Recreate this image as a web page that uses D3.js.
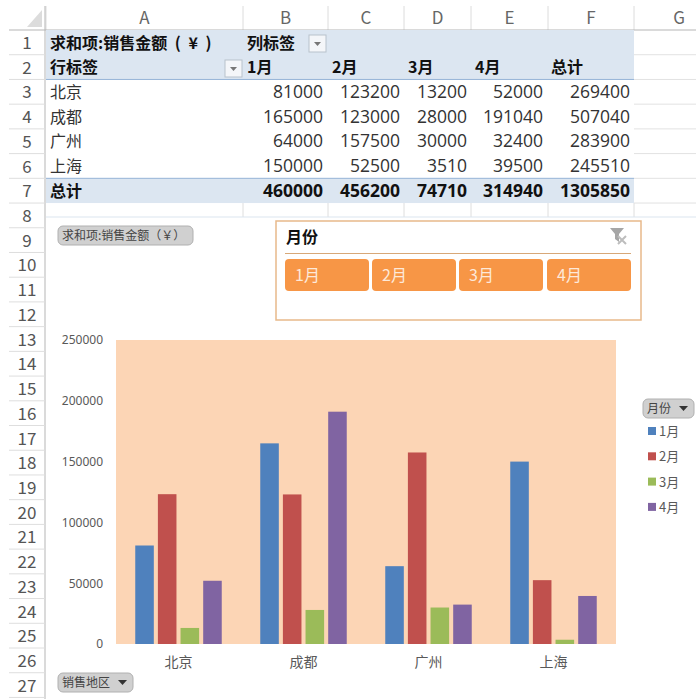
<!DOCTYPE html>
<html>
<head>
<meta charset="utf-8">
<script src="https://cdn.jsdelivr.net/npm/d3@7"></script>
<style>
  html, body { margin: 0; padding: 0; background: #fff; }
  text { font-family: "Noto Sans CJK SC", "Noto Sans", sans-serif; }
</style>
</head>
<body>
<svg id="chart" width="696" height="699"></svg>
<script>
// chart data
const cities = ['北京', '成都', '广州', '上海'];
const months = ['1月', '2月', '3月', '4月'];
const jan = [81000, 165000, 64000, 150000];
const feb = [123200, 123000, 157500, 52500];
const mar = [13200, 28000, 30000, 3510];
const apr = [52000, 191040, 32400, 39500];
const rowTotals = [269400, 507040, 283900, 245510];
const monthTotals = [460000, 456200, 74710, 314940];
const grandTotal = 1305850;
const yTicks = [0, 50000, 100000, 150000, 200000, 250000];
const colLetters = ['A', 'B', 'C', 'D', 'E', 'F', 'G'];

const series = [jan, feb, mar, apr];
const colors = ['#4f81bd', '#c0504d', '#9bbb59', '#8064a2'];

const svg = d3.select('#chart');

// ---- sheet grid ----
const colEdges = [46, 243, 328, 404, 471, 548, 634, 724];
const rowH = 24.72;
const rowTop = i => 30 + (i - 1) * rowH; // i = excel row number
const rowIds = d3.range(1, 28);
const grid = svg.append('g');

// corner + headers
grid.append('path').attr('d', 'M42,10V27H27Z').attr('fill', '#dcdcdc');
grid.selectAll('.col').data(colLetters).enter().append('text')
    .attr('x', (d, i) => (colEdges[i] + colEdges[i + 1]) / 2)
    .attr('y', 24).attr('text-anchor', 'middle')
    .attr('font-size', 17).attr('fill', '#666').text(d => d);
grid.selectAll('.colsep').data(colEdges.slice(0, -1)).enter().append('line')
    .attr('x1', d => d).attr('x2', d => d).attr('y1', 6).attr('y2', 30)
    .attr('stroke', '#dcdcdc');
grid.append('line').attr('x1', 9).attr('x2', 696).attr('y1', 30).attr('y2', 30).attr('stroke', '#b5b5b5');
grid.append('line').attr('x1', 45).attr('x2', 45).attr('y1', 6).attr('y2', 699).attr('stroke', '#b5b5b5');

grid.selectAll('.rowno').data(rowIds).enter().append('text')
    .attr('x', 27).attr('y', d => rowTop(d) + 19).attr('text-anchor', 'middle')
    .attr('font-size', 17).attr('fill', '#555').text(d => d);
grid.selectAll('.rowsep').data(rowIds).enter().append('line')
    .attr('x1', 9).attr('x2', 45)
    .attr('y1', d => rowTop(d) + rowH).attr('y2', d => rowTop(d) + rowH)
    .attr('stroke', '#dedede');
// sheet lines right of the table and in row 8
grid.selectAll('.gsep').data(d3.range(1, 8)).enter().append('line')
    .attr('x1', 634).attr('x2', 696)
    .attr('y1', d => rowTop(d) + rowH).attr('y2', d => rowTop(d) + rowH)
    .attr('stroke', '#e2e2e2');
grid.selectAll('.r8').data(colEdges.slice(1, -1)).enter().append('line')
    .attr('x1', d => d).attr('x2', d => d).attr('y1', rowTop(8)).attr('y2', 217)
    .attr('stroke', '#dedede');
grid.append('line').attr('x1', 46).attr('x2', 696).attr('y1', 217).attr('y2', 217).attr('stroke', '#dbe5ef');

// ---- pivot table ----
const table = svg.append('g');
const tableFill = '#dce6f1';
table.append('rect').attr('x', 46).attr('y', rowTop(1)).attr('width', 588).attr('height', rowH * 2).attr('fill', tableFill);
table.append('rect').attr('x', 46).attr('y', rowTop(7)).attr('width', 588).attr('height', rowH).attr('fill', tableFill);
[rowTop(3), rowTop(7)].forEach(y => {
  table.append('line').attr('x1', 46).attr('x2', 634).attr('y1', y).attr('y2', y).attr('stroke', '#95b3d7');
});

const cell = (x, row, txt, bold, anchor) => table.append('text')
    .attr('x', x).attr('y', rowTop(row) + 18.5)
    .attr('text-anchor', anchor || 'start')
    .attr('font-size', 16).attr('font-weight', bold ? 700 : 400)
    .attr('fill', bold ? '#111' : '#333').text(txt);
// the numbers are wider than the CJK font's digits
const num = (x, row, v, bold) => cell(x, row, v, bold, 'end')
    .attr('font-size', 17.5).style('font-family', '"Open Sans", sans-serif');

cell(50, 1, '求和项:销售金额 ( ¥ )', true).attr('word-spacing', 4);
cell(247, 1, '列标签', true);
cell(50, 2, '行标签', true);
const headX = [247, 332, 408, 475, 551];
months.forEach((m, i) => cell(headX[i], 2, m, true));
cell(headX[4], 2, '总计', true);

const numRight = [323, 400, 467, 543, 630];
cities.forEach((c, r) => {
  cell(50, r + 3, c, false);
  series.forEach((s, k) => num(numRight[k], r + 3, s[r], false));
  num(numRight[4], r + 3, rowTotals[r], false);
});
cell(50, 7, '总计', true);
monthTotals.forEach((v, k) => num(numRight[k], 7, v, true));
num(numRight[4], 7, grandTotal, true);

// filter buttons in the header
const dropBtn = (x, y) => {
  table.append('rect').attr('x', x).attr('y', y).attr('width', 17).attr('height', 17)
      .attr('fill', '#f4f6f9').attr('stroke', '#b8c2cc');
  table.append('path').attr('d', `M${x + 5},${y + 7}h7l-3.5,4Z`).attr('fill', '#777');
};
dropBtn(309, 35);
dropBtn(225, 60);

// ---- slicer ----
const slicer = svg.append('g');
slicer.append('rect').attr('x', 276).attr('y', 221).attr('width', 365).attr('height', 99)
    .attr('fill', '#fff').attr('stroke', '#e8b98a').attr('stroke-width', 1.5);
slicer.append('text').attr('x', 286).attr('y', 243).attr('font-size', 16)
    .attr('font-weight', 700).attr('fill', '#111').text('月份');
slicer.append('line').attr('x1', 285).attr('x2', 631).attr('y1', 253.5).attr('y2', 253.5).attr('stroke', '#d8a878');
const slicerX = [285, 372, 459, 547];
const btn = slicer.selectAll('.btn').data(months).enter().append('g')
    .attr('transform', (d, i) => `translate(${slicerX[i]},259)`);
btn.append('rect').attr('width', 84).attr('height', 32).attr('rx', 4).attr('fill', '#f79646');
btn.append('text').attr('x', 10).attr('y', 22).attr('font-size', 16).attr('fill', '#fde9d9').text(d => d);
// clear filter icon
slicer.append('path').attr('d', 'M610,228h14l-5,6v8l-4,-3v-5Z').attr('fill', '#a6a6a6');
slicer.append('path').attr('d', 'M618,236l8,8M626,236l-8,8').attr('stroke', '#bdbdbd').attr('stroke-width', 2);

// ---- column chart ----
const x0 = d3.scaleBand().domain(cities).range([116, 616]);
const x1 = d3.scaleBand().domain(months).range([0, x0.bandwidth()])
    .paddingInner(0.18).paddingOuter(0.85);
const y = d3.scaleLinear().domain([0, 250000]).range([644, 340]);

const chart = svg.append('g');
chart.append('rect').attr('x', 116).attr('y', y(250000)).attr('width', 500)
    .attr('height', y(0) - y(250000)).attr('fill', '#fcd5b5');

chart.selectAll('.group').data(cities).enter().append('g')
    .attr('transform', d => `translate(${x0(d)},0)`)
  .selectAll('rect')
  .data((d, i) => months.map((m, k) => ({ m, k, v: series[k][i] })))
  .enter().append('rect')
    .attr('x', d => x1(d.m))
    .attr('y', d => y(d.v))
    .attr('width', x1.bandwidth())
    .attr('height', d => y(0) - y(d.v))
    .attr('fill', d => colors[d.k]);

const yAxis = chart.append('g').attr('transform', 'translate(106,0)')
    .call(d3.axisLeft(y).tickValues(yTicks).tickSize(0).tickFormat(d3.format('d')));
yAxis.select('.domain').remove();
yAxis.selectAll('text').attr('font-size', 12).attr('fill', '#595959')
    .style('font-family', '"Noto Sans", sans-serif');

const xAxis = chart.append('g').attr('transform', 'translate(0,654)')
    .call(d3.axisBottom(x0).tickSize(0));
xAxis.select('.domain').remove();
xAxis.selectAll('text').attr('font-size', 14).attr('fill', '#595959')
    .style('font-family', '"Noto Sans CJK SC", sans-serif');

// ---- field buttons and legend ----
const fieldBtn = (bx, by, w, txt, arrow) => {
  const g = svg.append('g');
  g.append('rect').attr('x', bx).attr('y', by).attr('width', w).attr('height', 19).attr('rx', 5)
      .attr('fill', '#d0d0d0').attr('stroke', '#b0b0b0');
  g.append('text').attr('x', bx + 4).attr('y', by + 14).attr('font-size', 12).attr('fill', '#444').text(txt);
  if (arrow) g.append('path').attr('d', `M${bx + w - 15},${by + 7}h9l-4.5,5Z`).attr('fill', '#333');
};
fieldBtn(58, 226, 135, '求和项:销售金额（￥）', false);
fieldBtn(58, 673, 75, '销售地区', true);
fieldBtn(643, 399, 51, '月份', true);

const legend = svg.selectAll('.legend').data(months).enter().append('g')
    .attr('transform', (d, i) => `translate(648,${431 + i * 25.3})`);
legend.append('rect').attr('x', 0).attr('y', -4).attr('width', 8).attr('height', 8).attr('fill', (d, i) => colors[i]);
legend.append('text').attr('x', 11).attr('y', 5).attr('font-size', 13).attr('fill', '#595959').text(d => d);
</script>
</body>
</html>
